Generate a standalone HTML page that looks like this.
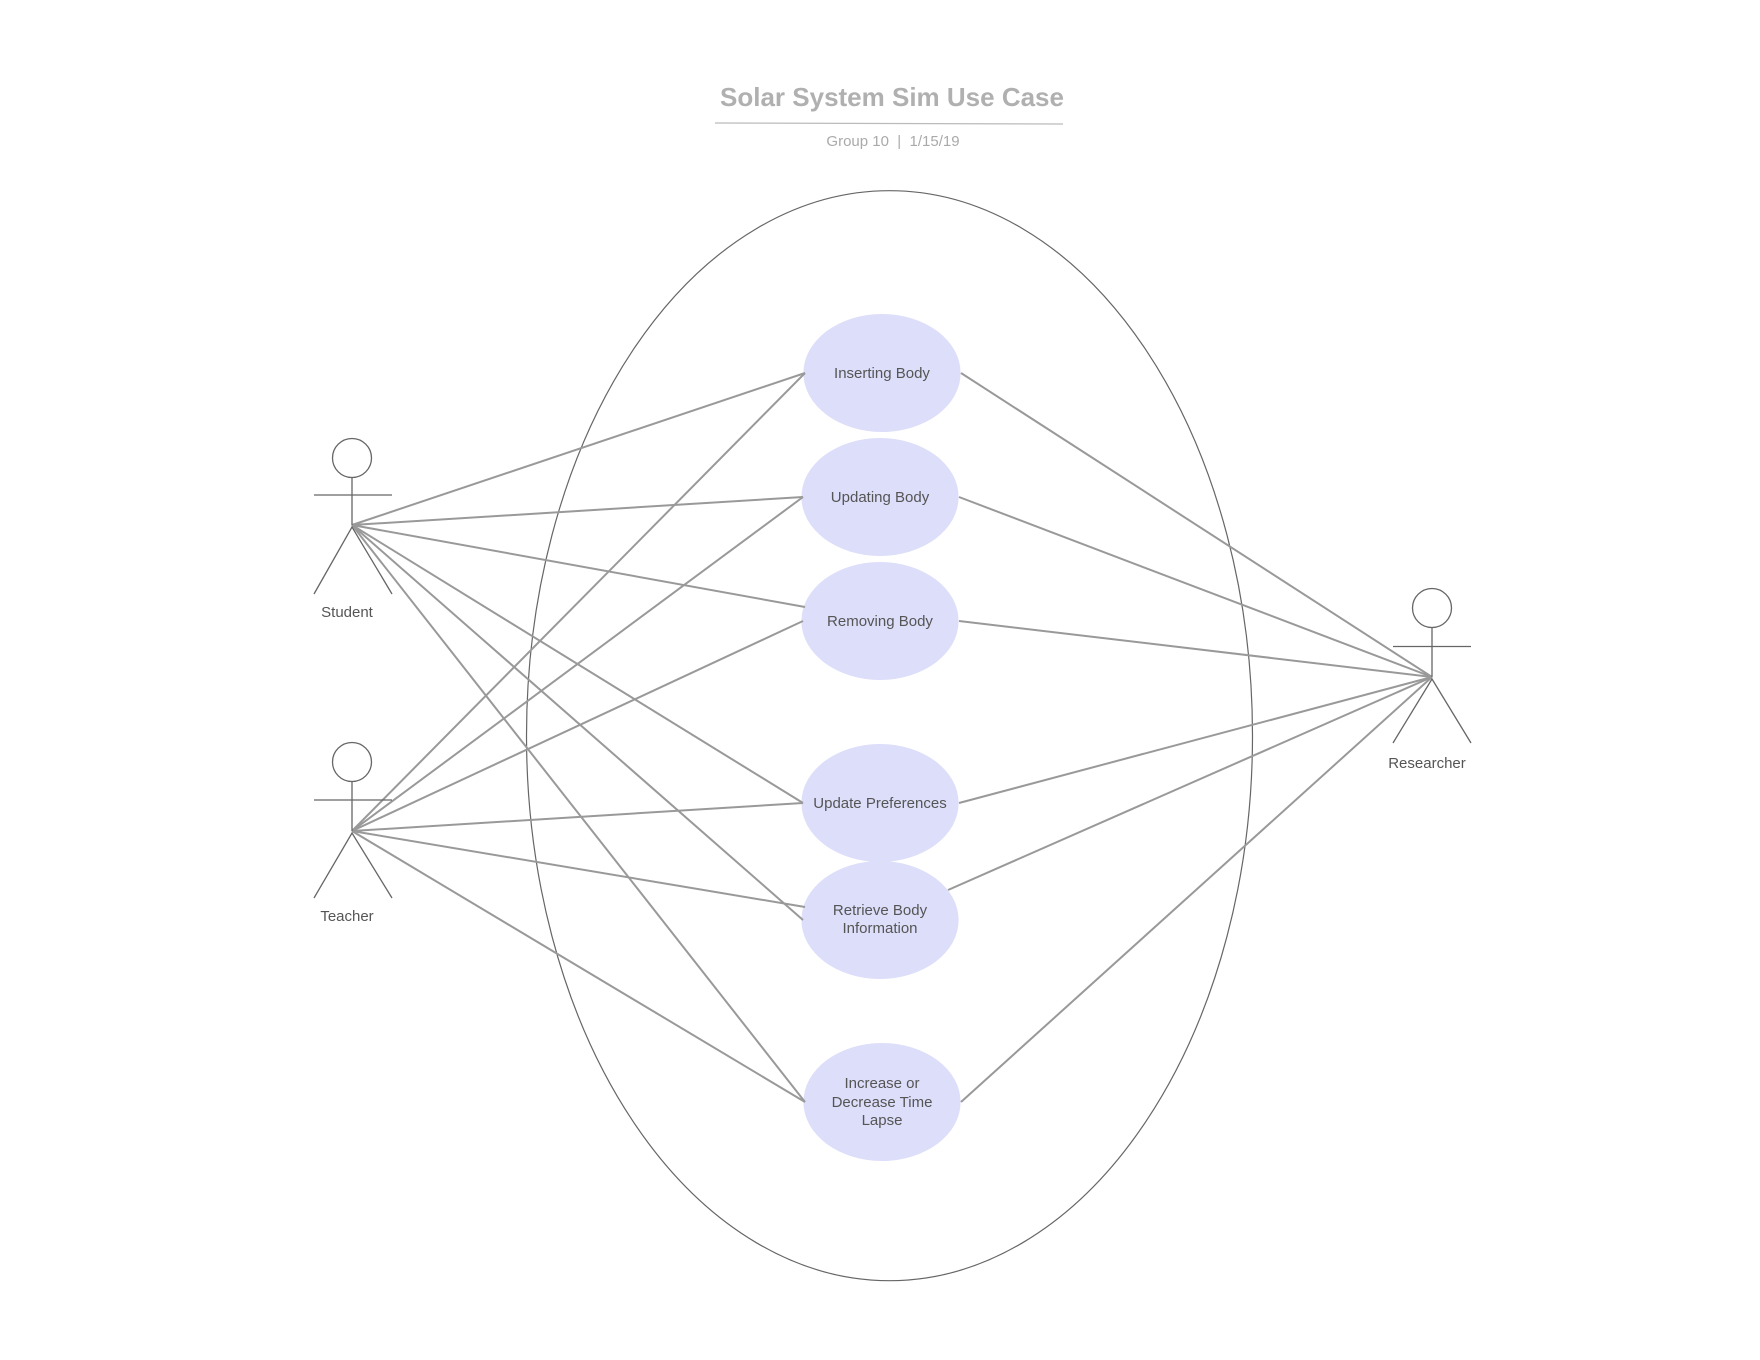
<!DOCTYPE html>
<html><head><meta charset="utf-8"><style>html,body{margin:0;padding:0;background:#fff}svg{display:block}</style></head>
<body>
<svg width="1760" height="1360" viewBox="0 0 1760 1360" xmlns="http://www.w3.org/2000/svg" font-family="Liberation Sans, sans-serif">
<rect width="1760" height="1360" fill="#fff"/>
<text x="892" y="106" text-anchor="middle" font-size="26" font-weight="bold" fill="#b0b0b0">Solar System Sim Use Case</text>
<line x1="715" y1="123" x2="1063" y2="124" stroke="#bbb" stroke-width="1.3"/>
<text x="893" y="146" text-anchor="middle" font-size="15" fill="#aaa" style="white-space:pre">Group 10  |  1/15/19</text>
<ellipse cx="889.5" cy="735.7" rx="363" ry="545" fill="none" stroke="#666" stroke-width="1.2"/>
<g fill="#dddefa">
<ellipse cx="882" cy="373" rx="78.6" ry="59"/>
<ellipse cx="880" cy="497" rx="78.6" ry="59"/>
<ellipse cx="880" cy="621" rx="78.6" ry="59"/>
<ellipse cx="880" cy="803" rx="78.6" ry="59"/>
<ellipse cx="880" cy="920" rx="78.6" ry="59"/>
<ellipse cx="882" cy="1102" rx="78.6" ry="59"/>
</g>
<g stroke="#999" stroke-width="2" fill="none">
<line x1="352" y1="525" x2="805" y2="373"/>
<line x1="352" y1="525" x2="803" y2="497"/>
<line x1="352" y1="525" x2="805" y2="607"/>
<line x1="352" y1="525" x2="803" y2="803"/>
<line x1="352" y1="525" x2="803" y2="920"/>
<line x1="352" y1="525" x2="805" y2="1102"/>
<line x1="352" y1="831" x2="805" y2="373"/>
<line x1="352" y1="831" x2="803" y2="497"/>
<line x1="352" y1="831" x2="803" y2="621"/>
<line x1="352" y1="831" x2="803" y2="803"/>
<line x1="352" y1="831" x2="805" y2="907"/>
<line x1="352" y1="831" x2="805" y2="1102"/>
<line x1="1432" y1="677" x2="961" y2="373"/>
<line x1="1432" y1="677" x2="959" y2="497"/>
<line x1="1432" y1="677" x2="959" y2="621"/>
<line x1="1432" y1="677" x2="959" y2="803"/>
<line x1="1432" y1="677" x2="948" y2="890"/>
<line x1="1432" y1="677" x2="961" y2="1102"/>
</g>
<g stroke="#666" stroke-width="1.3" fill="none">
<circle cx="352" cy="458" r="19.5"/>
<line x1="352" y1="477.5" x2="352" y2="525"/>
<line x1="314" y1="495" x2="392" y2="495"/>
<polyline points="314,594 352,527 392,594"/>
<circle cx="352" cy="762" r="19.5"/>
<line x1="352" y1="781.5" x2="352" y2="831"/>
<line x1="314" y1="800" x2="392" y2="800"/>
<polyline points="314,898 352,833 392,898"/>
<circle cx="1432" cy="608" r="19.5"/>
<line x1="1432" y1="627.5" x2="1432" y2="677"/>
<line x1="1393" y1="646.5" x2="1471" y2="646.5"/>
<polyline points="1393,743 1432,679 1471,743"/>
</g>
<g font-size="15" fill="#555" text-anchor="middle">
<text x="347" y="617">Student</text>
<text x="347" y="921">Teacher</text>
<text x="1427" y="768">Researcher</text>
<text x="882" y="378">Inserting Body</text>
<text x="880" y="502">Updating Body</text>
<text x="880" y="626">Removing Body</text>
<text x="880" y="808">Update Preferences</text>
<text x="880" y="915">Retrieve Body</text>
<text x="880" y="933">Information</text>
<text x="882" y="1088">Increase or</text>
<text x="882" y="1107">Decrease Time</text>
<text x="882" y="1125">Lapse</text>
</g>
</svg>
</body></html>
